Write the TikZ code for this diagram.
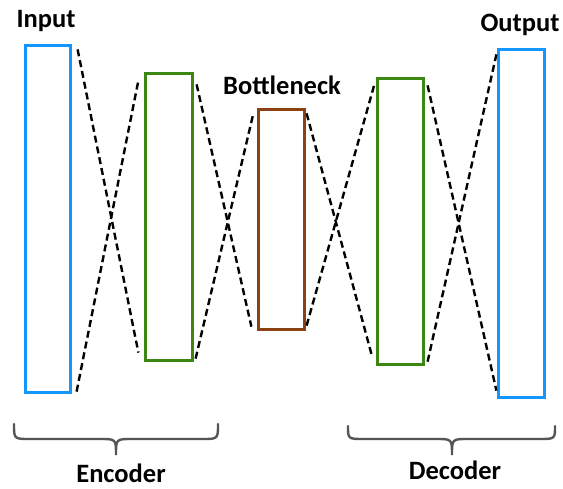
\documentclass[tikz,border=0pt]{standalone}
\usepackage{fontspec}
\setmainfont{Carlito}
\usetikzlibrary{calc}
\definecolor{inblue}{RGB}{20,150,255}
\definecolor{laygreen}{RGB}{60,135,20}
\definecolor{bnbrown}{RGB}{140,65,20}
\definecolor{bracegray}{RGB}{85,85,85}
\tikzset{
  layer/.style={draw, rectangle, line width=2.8pt, inner sep=0pt, outer sep=0pt},
  link/.style={draw=black, line width=2.4pt, dash pattern=on 7pt off 4pt},
  lbl/.style={font=\fontsize{26.5}{30}\selectfont\bfseries, anchor=base, inner sep=0pt},
  brace/.style={draw=bracegray, line width=2.4pt, line cap=round},
}
\begin{document}
\begin{tikzpicture}[x=1pt, y=-1pt]
  \useasboundingbox (0,0) rectangle (563,488);

  % layers
  \node[layer, draw=inblue, minimum width=45.2pt, minimum height=347.2pt] (in) at (48,219) {};
  \node[layer, draw=laygreen, minimum width=47.2pt, minimum height=287.2pt] (enc) at (169,217) {};
  \node[layer, draw=bnbrown, minimum width=46.2pt, minimum height=220.2pt] (bn) at (281.5,219.5) {};
  \node[layer, draw=laygreen, minimum width=46.2pt, minimum height=286.2pt] (dec) at (400.5,221.5) {};
  \node[layer, draw=inblue, minimum width=46.2pt, minimum height=348.2pt] (out) at (521.5,223.5) {};

  % crossing projections between layers
  \draw[link] ($(in.north east)+(7,4)$) -- ($(enc.south west)+(-7,-8)$);
  \draw[link] ($(in.south east)+(6,-1)$) -- ($(enc.north west)+(-7,7)$);
  \draw[link] ($(enc.north east)+(4,11)$) -- ($(bn.south west)+(-7,-3)$);
  \draw[link] ($(enc.south east)+(3,-2)$) -- ($(bn.north west)+(-5,4)$);
  \draw[link] ($(bn.north east)+(2,4)$) -- ($(dec.south west)+(-5,-7)$);
  \draw[link] ($(bn.south east)+(2,-4)$) -- ($(dec.north west)+(-3,6)$);
  \draw[link] ($(dec.north east)+(4,7)$) -- ($(out.south west)+(-2,-7)$);
  \draw[link] ($(dec.south east)+(4,-3)$) -- ($(out.north west)+(-2,5)$);

  % labels
  \node[lbl] (tin) at (46,27) {Input};
  \node[lbl] (tout) at (520,31) {Output};
  \node[lbl] (tbn) at (282,94) {Bottleneck};

  % braces
  \draw[brace] (14,424) .. controls (14,439) .. (30,439) -- (100,439)
    .. controls (116,439) .. (116,455) .. controls (116,439) .. (132,439)
    -- (202,439) .. controls (218,439) .. (218,424);
  \draw[brace] (348,426) .. controls (348,439) .. (364,439) -- (436,439)
    .. controls (452,439) .. (452,455) .. controls (452,439) .. (468,439)
    -- (539,439) .. controls (555,439) .. (555,426);

  \node[lbl] (tenc) at (121,482) {Encoder};
  \node[lbl] (tdec) at (455,479) {Decoder};
\end{tikzpicture}
\end{document}
